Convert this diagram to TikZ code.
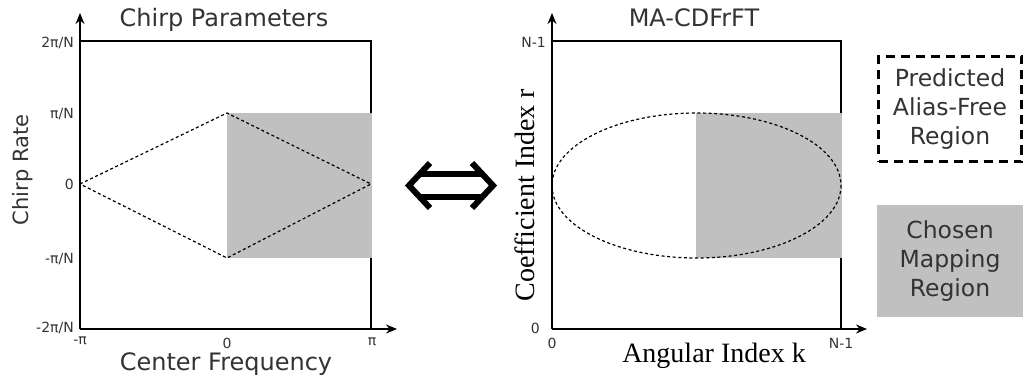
\documentclass[tikz,border=0pt]{standalone}
\usepackage{fontspec}
\setmainfont{DejaVu Sans}
\newfontfamily\serifx{Liberation Serif}
\usetikzlibrary{arrows.meta}
\definecolor{txtgray}{HTML}{333333}
\definecolor{regiongray}{HTML}{C0C0C0}
\begin{document}
\begin{tikzpicture}[x=1pt,y=-1pt,
  ttl/.style={text=txtgray,font=\fontsize{24}{28}\selectfont,inner sep=0pt},
  tick/.style={text=txtgray,font=\fontsize{14}{16}\selectfont,inner sep=0pt},
  slabel/.style={text=black,font=\serifx\fontsize{28}{32}\selectfont,inner sep=0pt},
  axis/.style={line width=1.8pt,-{Stealth[length=11pt,width=9pt]}},
  frame/.style={line width=1.8pt},
  pred/.style={line width=1.2pt,dash pattern=on 3pt off 2.6pt},
  legtxt/.style={text=txtgray,font=\fontsize{23.5}{29}\selectfont,align=center,inner sep=0pt},
  dbl/.style={line width=6pt,line join=miter}]
\useasboundingbox (0,0) rectangle (1025,385);
\fill[white] (0,0) rectangle (1025,385);

% ---------- Left plot ----------
\coordinate (LO) at (80,329);
\coordinate (LTL) at (80,41);
\coordinate (LTR) at (371,41);
\coordinate (LBR) at (371,329);
\coordinate (LY) at (80,13);
\coordinate (LX) at (397,329);
\draw[frame] (LTL) -- (LTR) -- (LBR);
\fill[regiongray] (227,113) rectangle (372,258);
\draw[axis] (LO) -- (LY);
\draw[axis] (LO) -- (LX);
\coordinate (DL) at (80,184);
\coordinate (DT) at (227,113);
\coordinate (DR) at (371,184);
\coordinate (DB) at (227,258);
\draw[pred] (DL) -- (DT) -- (DR) -- (DB) -- cycle;

\node[ttl,anchor=base] (t1) at (224,27) {Chirp Parameters};
\node[ttl,anchor=base] (xl1) at (226,370) {Center Frequency};
\node[ttl,rotate=90,font=\fontsize{21}{24}\selectfont] (yl1) at (23,170) {Chirp Rate};

\node[tick,anchor=east] (ly1) at (74,43) {2π/N};
\node[tick,anchor=east] (ly2) at (74,114) {π/N};
\node[tick,anchor=east] (ly3) at (74,184) {0};
\node[tick,anchor=east] (ly4) at (74,259) {-π/N};
\node[tick,anchor=east] (ly5) at (74,328) {-2π/N};
\node[tick] (lx1) at (80,341) {-π};
\node[tick] (lx2) at (227,343) {0};
\node[tick] (lx3) at (372,342) {π};

% ---------- Double arrow ----------
\coordinate (AL) at (409,185.5);
\coordinate (AR) at (493,185.5);
\draw[dbl] (430,163) -- (AL) -- (430,208);
\draw[dbl] (472,163) -- (AR) -- (472,208);
\draw[dbl] (420,174) -- (482,174);
\draw[dbl] (420,197) -- (482,197);

% ---------- Right plot ----------
\coordinate (RO) at (552,329);
\coordinate (RTL) at (552,41);
\coordinate (RTR) at (841,41);
\coordinate (RBR) at (841,329);
\coordinate (RY) at (552,13);
\coordinate (RX) at (867,329);
\draw[frame] (RTL) -- (RTR) -- (RBR);
\fill[regiongray] (696,113) rectangle (842,258);
\draw[axis] (RO) -- (RY);
\draw[axis] (RO) -- (RX);
\coordinate (EC) at (696.5,185.5);
\draw[pred] (EC) ellipse [x radius=144.5, y radius=72.5];

\node[ttl,anchor=base] (t2) at (694,27) {MA-CDFrFT};
\node[slabel,anchor=base] (xl2) at (714,362) {Angular Index k};
\node[slabel,rotate=90] (yl2) at (525,195) {Coefficient Index r};

\node[tick,anchor=east] (ry1) at (546,42) {N-1};
\node[tick,anchor=east] (ry2) at (540,328) {0};
\node[tick] (rx1) at (552,343) {0};
\node[tick] (rx2) at (841,343) {N-1};

% ---------- Legend ----------
\node[draw=black,line width=2.6pt,dash pattern=on 9pt off 6pt,
      minimum width=143pt,minimum height=105pt,legtxt] (leg1) at (950,109)
      {Predicted\\Alias-Free\\Region};
\node[fill=regiongray,minimum width=146pt,minimum height=112pt,legtxt] (leg2) at (950,261)
      {Chosen\\Mapping\\Region};
\end{tikzpicture}
\end{document}
